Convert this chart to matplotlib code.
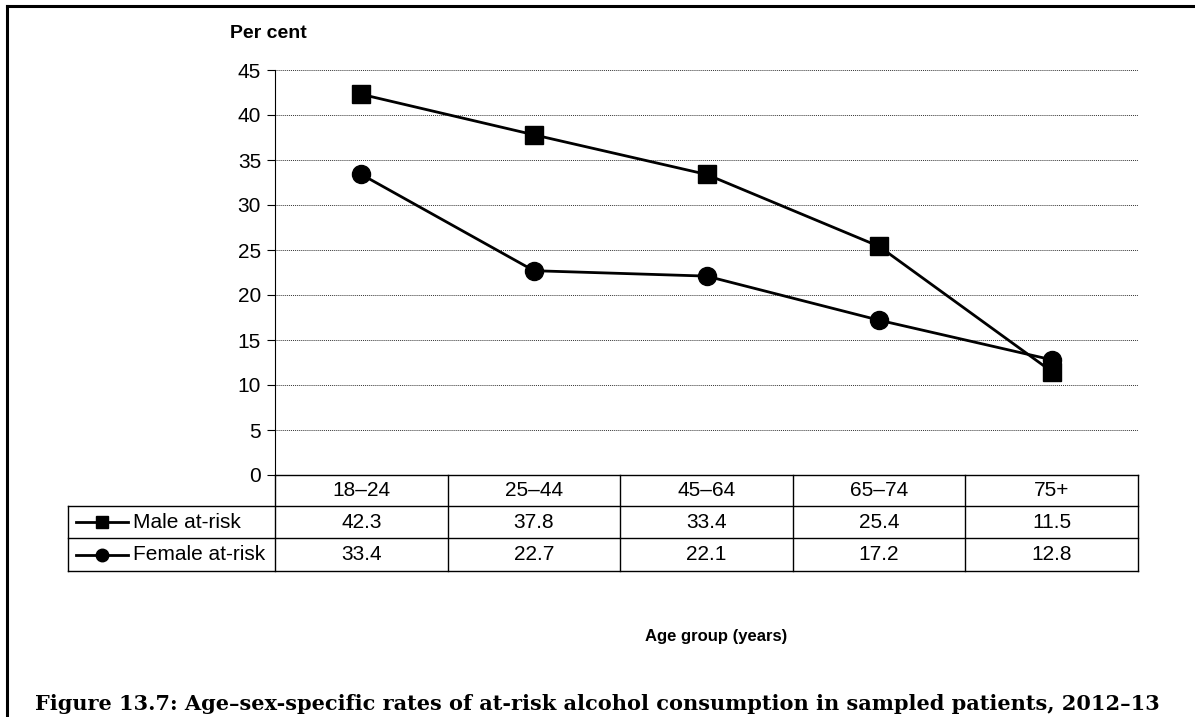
import matplotlib
matplotlib.use("Agg")
import matplotlib.pyplot as plt
from matplotlib.lines import Line2D

plt.rcParams["font.family"] = ["Liberation Sans", "DejaVu Sans"]

age_groups = ["18–24", "25–44", "45–64", "65–74", "75+"]
male = [42.3, 37.8, 33.4, 25.4, 11.5]
female = [33.4, 22.7, 22.1, 17.2, 12.8]
series_names = ["Male at-risk", "Female at-risk"]
y_ticks = [0, 5, 10, 15, 20, 25, 30, 35, 40, 45]

W, H = 1195, 717
fig = plt.figure(figsize=(W / 100, H / 100), dpi=100)


def fx(px):
    return px / W


def fy(py):
    return 1 - py / H


# plot area in pixels
left, right, top, bottom = 275, 1138, 70, 475
ax = fig.add_axes([fx(left), fy(bottom), fx(right - left), (bottom - top) / H])
ax.set_xlim(-0.5, len(age_groups) - 0.5)
ax.set_ylim(0, 45)
ax.set_yticks(y_ticks)
ax.set_xticks([])
ax.tick_params(axis="y", labelsize=15, length=6, width=0.8, pad=4)
for s in ("top", "right", "bottom"):
    ax.spines[s].set_visible(False)
ax.spines["left"].set_linewidth(0.8)
ax.yaxis.grid(True, linestyle=(0, (1, 1)), color="#333333", linewidth=0.7)
ax.set_axisbelow(True)

x = list(range(len(age_groups)))
ax.plot(x, male, color="black", lw=2, marker="s", ms=12.5, clip_on=False, zorder=3)
ax.plot(x, female, color="black", lw=2, marker="o", ms=13, clip_on=False, zorder=3)

fig.text(fx(230), fy(33), "Per cent", fontsize=14, fontweight="bold", va="center")

# data table below the axis
row_y = [475, 506, 538, 571]
col_w = (right - left) / len(age_groups)
col_x = [left + i * col_w for i in range(len(age_groups) + 1)]
legend_left = 68
lw_t = 1.0


def hline(x0, x1, y):
    fig.add_artist(Line2D([fx(x0), fx(x1)], [fy(y), fy(y)], color="black", lw=lw_t))


def vline(xp, y0, y1):
    fig.add_artist(Line2D([fx(xp), fx(xp)], [fy(y0), fy(y1)], color="black", lw=lw_t))


hline(left, right, row_y[0])
for y in row_y[1:]:
    hline(legend_left, right, y)
vline(legend_left, row_y[1], row_y[3])
vline(left, row_y[0], row_y[3])
for xp in col_x[1:]:
    vline(xp, row_y[0], row_y[3])

for i, g in enumerate(age_groups):
    cx = (col_x[i] + col_x[i + 1]) / 2
    fig.text(fx(cx), fy((row_y[0] + row_y[1]) / 2), g, ha="center", va="center", fontsize=15)
    fig.text(fx(cx), fy((row_y[1] + row_y[2]) / 2), f"{male[i]:.1f}", ha="center", va="center", fontsize=15)
    fig.text(fx(cx), fy((row_y[2] + row_y[3]) / 2), f"{female[i]:.1f}", ha="center", va="center", fontsize=15)

for r, (name, mk, ms) in enumerate(zip(series_names, ["s", "o"], [8.5, 9])):
    cy = (row_y[r + 1] + row_y[r + 2]) / 2
    fig.add_artist(Line2D([fx(76), fx(128)], [fy(cy), fy(cy)], color="black", lw=2))
    fig.add_artist(Line2D([fx(102)], [fy(cy)], color="black", marker=mk, ms=ms, lw=0))
    fig.text(fx(133), fy(cy), name, ha="left", va="center", fontsize=15)

fig.text(fx(716), fy(637), "Age group (years)", ha="center", va="center", fontsize=12, fontweight="bold")

fig.text(fx(597), fy(704), "Figure 13.7: Age–sex-specific rates of at-risk alcohol consumption in sampled patients, 2012–13",
         ha="center", va="center", fontsize=15, fontweight="bold", family=["DejaVu Serif"])

# outer frame (left and top edges)
fig.add_artist(Line2D([fx(7), fx(7)], [fy(6), 0], color="black", lw=2.2))
fig.add_artist(Line2D([fx(7), 1], [fy(6), fy(6)], color="black", lw=2.2))

fig.savefig("out.png", dpi=100)
